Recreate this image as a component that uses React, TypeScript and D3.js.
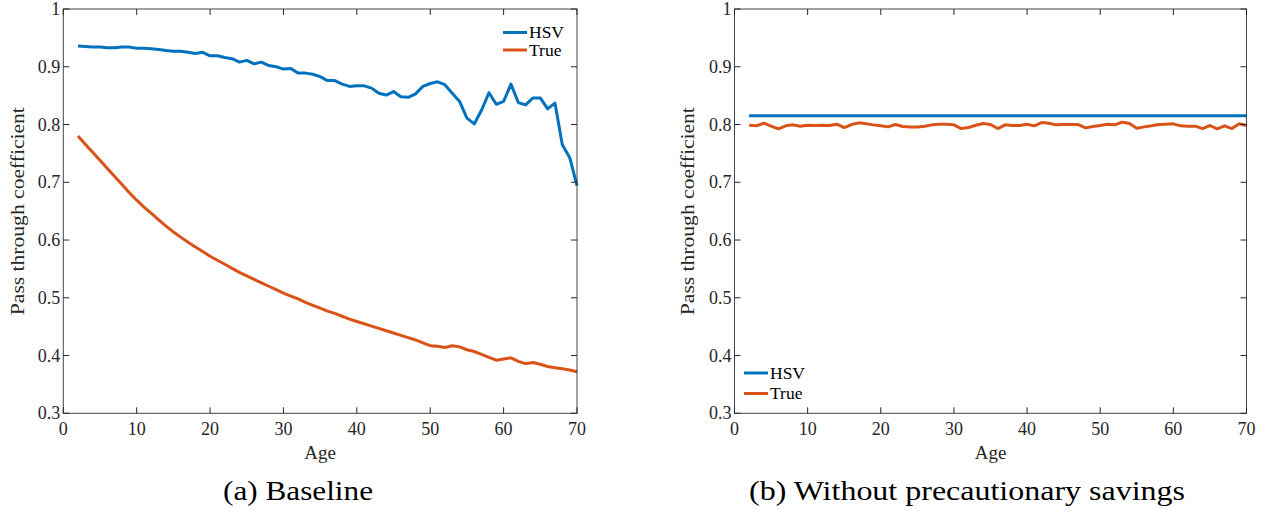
import React from 'react';
import * as d3 from 'd3';

const AGES = [2,3,4,5,6,7,8,9,10,11,12,13,14,15,16,17,18,19,20,21,22,23,24,25,26,27,28,29,30,31,32,33,34,35,36,37,38,39,40,41,42,43,44,45,46,47,48,49,50,51,52,53,54,55,56,57,58,59,60,61,62,63,64,65,66,67,68,69,70];

const BASE_HSV = [0.936,0.935,0.934,0.934,0.933,0.933,0.934,0.934,0.932,0.932,0.931,0.930,0.928,0.927,0.927,0.925,0.923,0.925,0.919,0.919,0.916,0.914,0.908,0.911,0.905,0.908,0.902,0.900,0.896,0.897,0.889,0.889,0.887,0.883,0.876,0.876,0.870,0.866,0.867,0.867,0.863,0.854,0.851,0.857,0.848,0.847,0.853,0.866,0.871,0.874,0.869,0.854,0.840,0.811,0.801,0.825,0.855,0.835,0.840,0.870,0.838,0.834,0.846,0.846,0.827,0.837,0.765,0.743,0.694];

const BASE_TRUE = [0.780,0.766,0.752,0.738,0.724,0.710,0.696,0.682,0.669,0.657,0.646,0.635,0.624,0.614,0.605,0.596,0.588,0.580,0.572,0.565,0.558,0.551,0.544,0.538,0.532,0.526,0.520,0.514,0.508,0.503,0.498,0.492,0.487,0.482,0.477,0.473,0.468,0.463,0.459,0.455,0.451,0.447,0.443,0.439,0.435,0.431,0.427,0.422,0.417,0.416,0.414,0.417,0.415,0.410,0.407,0.402,0.397,0.392,0.394,0.396,0.390,0.386,0.388,0.385,0.381,0.379,0.377,0.375,0.372];

const NOPS_HSV = [0.815,0.815,0.815,0.815,0.815,0.815,0.815,0.815,0.815,0.815,0.815,0.815,0.815,0.815,0.815,0.815,0.815,0.815,0.815,0.815,0.815,0.815,0.815,0.815,0.815,0.815,0.815,0.815,0.815,0.815,0.815,0.815,0.815,0.815,0.815,0.815,0.815,0.815,0.815,0.815,0.815,0.815,0.815,0.815,0.815,0.815,0.815,0.815,0.815,0.815,0.815,0.815,0.815,0.815,0.815,0.815,0.815,0.815,0.815,0.815,0.815,0.815,0.815,0.815,0.815,0.815,0.815,0.815,0.815];

const NOPS_TRUE = [0.7988,0.7977,0.8023,0.7971,0.7925,0.7977,0.7994,0.7971,0.7988,0.7983,0.7988,0.7983,0.8006,0.7948,0.8000,0.8029,0.8012,0.7994,0.7977,0.7959,0.8000,0.7965,0.7959,0.7959,0.7971,0.7994,0.8006,0.8006,0.7994,0.7930,0.7948,0.7988,0.8017,0.8000,0.7930,0.7994,0.7983,0.7983,0.8006,0.7977,0.8035,0.8023,0.7994,0.8000,0.8000,0.8000,0.7942,0.7965,0.7983,0.8006,0.7994,0.8041,0.8017,0.7936,0.7959,0.7977,0.8000,0.8006,0.8012,0.7977,0.7971,0.7971,0.7930,0.7983,0.7925,0.7977,0.7930,0.8012,0.7983];

const X_TICKS = [0, 10, 20, 30, 40, 50, 60, 70];
const Y_TICKS = [0.3, 0.4, 0.5, 0.6, 0.7, 0.8, 0.9, 1];
const Y_TICK_LABELS = ['0.3', '0.4', '0.5', '0.6', '0.7', '0.8', '0.9', '1'];
const SERIES_NAMES = ['HSV', 'True'];
const COLORS = ['#0072BD', '#D95319'];

const FONT = "'Liberation Serif', 'Times New Roman', serif";
const AXIS = '#262626';
const TXT = { fontFamily: FONT };

type PanelProps = {
  x0: number; x1: number; y0: number; y1: number;
  hsv: number[]; tru: number[];
  caption: string; captionX: number; captionW: number;
  ylabelX: number;
  legend: { x: number; y: number; gap: number };
};

function Panel(p: PanelProps) {
  const xs = d3.scaleLinear().domain([0, 70]).range([p.x0, p.x1]);
  const ys = d3.scaleLinear().domain([0.3, 1]).range([p.y1, p.y0]);
  const line = d3.line<number>().x((_, i) => xs(AGES[i])).y(d => ys(d));
  const tl = 6;
  const series = [p.hsv, p.tru];
  const cx = (p.x0 + p.x1) / 2;
  const cy = (p.y0 + p.y1) / 2;
  return (
    <g>
      {series.map((s, i) => (
        <path key={i} d={line(s) || ''} fill="none" stroke={COLORS[i]} strokeWidth={3} strokeLinejoin="round" />
      ))}
      <rect x={p.x0} y={p.y0} width={p.x1 - p.x0} height={p.y1 - p.y0} fill="none" stroke={AXIS} strokeWidth={1} opacity={0.85} />
      {X_TICKS.map(t => (
        <g key={'x' + t}>
          <line x1={xs(t)} x2={xs(t)} y1={p.y1} y2={p.y1 - tl} stroke={AXIS} />
          <line x1={xs(t)} x2={xs(t)} y1={p.y0} y2={p.y0 + tl} stroke={AXIS} />
          <text x={xs(t)} y={p.y1 + 22} textAnchor="middle" fontSize={18} fill={AXIS} style={TXT}>{t}</text>
        </g>
      ))}
      {Y_TICKS.map((t, i) => (
        <g key={'y' + t}>
          <line x1={p.x0} x2={p.x0 + tl} y1={ys(t)} y2={ys(t)} stroke={AXIS} />
          <line x1={p.x1} x2={p.x1 - tl} y1={ys(t)} y2={ys(t)} stroke={AXIS} />
          <text x={p.x0 - 3} y={ys(t)} dy="0.34em" textAnchor="end" fontSize={18} fill={AXIS} style={TXT}>{Y_TICK_LABELS[i]}</text>
        </g>
      ))}
      <text x={cx} y={p.y1 + 46} textAnchor="middle" fontSize={19} fill={AXIS} style={TXT}>Age</text>
      <text transform={`translate(${p.ylabelX},${cy}) rotate(-90)`} textAnchor="middle" fontSize={18.5} fill={AXIS} style={TXT} textLength={208} lengthAdjust="spacingAndGlyphs">Pass through coefficient</text>
      {SERIES_NAMES.map((n, i) => (
        <g key={n}>
          <line x1={p.legend.x} x2={p.legend.x + 24} y1={p.legend.y + i * p.legend.gap} y2={p.legend.y + i * p.legend.gap} stroke={COLORS[i]} strokeWidth={3} />
          <text x={p.legend.x + 26} y={p.legend.y + i * p.legend.gap} dy="0.34em" fontSize={17.5} fill="#000" style={TXT}>{n}</text>
        </g>
      ))}
      <text x={p.captionX} y={500} textAnchor="middle" fontSize={28} fill="#000" style={TXT} textLength={p.captionW} lengthAdjust="spacingAndGlyphs">{p.caption}</text>
    </g>
  );
}

export default function App() {
  return (
    <svg width={1270} height={512} style={{ position: 'absolute', left: 0, top: 0, background: '#fff' }}>
      <rect x={0} y={0} width={1270} height={512} fill="#fff" />
      <Panel x0={63.3} x1={577} y0={9} y1={413.3} hsv={BASE_HSV} tru={BASE_TRUE}
        caption="(a) Baseline" captionX={298} captionW={150} ylabelX={24}
        legend={{ x: 503, y: 32.5, gap: 17.5 }} />
      <Panel x0={734.5} x1={1246.5} y0={9} y1={413.3} hsv={NOPS_HSV} tru={NOPS_TRUE}
        caption="(b) Without precautionary savings" captionX={967} captionW={436} ylabelX={694}
        legend={{ x: 744, y: 373, gap: 20.5 }} />
    </svg>
  );
}
